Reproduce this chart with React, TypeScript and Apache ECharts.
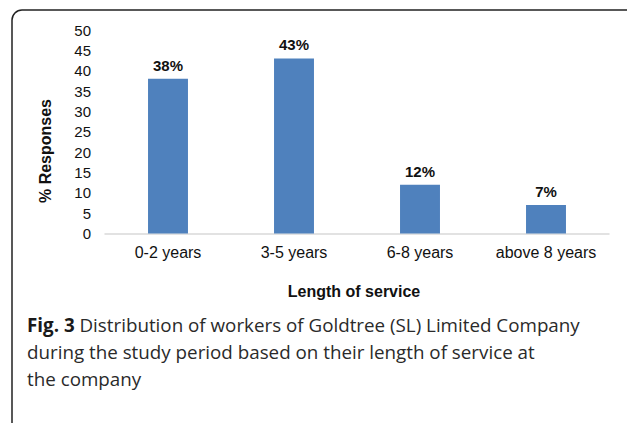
import React, { useEffect, useRef } from "react";
import * as echarts from "echarts";

const categories = ["0-2 years", "3-5 years", "6-8 years", "above 8 years"];
const responses = [38, 43, 12, 7];
const yTicks = { min: 0, max: 50, interval: 5 };
const xTitle = "Length of service";
const yTitle = "% Responses";
const captionBold = "Fig. 3";
const captionLines = [
  " Distribution of workers of Goldtree (SL) Limited Company",
  "during the study period based on their length of service at",
  "the company",
];

export default function App() {
  const ref = useRef<HTMLDivElement>(null);
  useEffect(() => {
    if (!ref.current) return;
    const chart = echarts.init(ref.current, null, { renderer: "svg" });
    const captionText =
      "{b|" + captionBold + "}{n|" + captionLines[0] + "}\n{n|" + captionLines[1] + "}\n{n|" + captionLines[2] + "}";
    chart.setOption({
      animation: false,
      backgroundColor: "#ffffff",
      grid: { left: 105, right: 18, top: 30, bottom: 189.5, containLabel: false },
      xAxis: {
        type: "category",
        data: categories,
        axisLine: { show: true, lineStyle: { color: "#d9d9d9", width: 1.5 } },
        axisTick: { show: false },
        axisLabel: {
          interval: 0,
          hideOverlap: false,
          color: "#111",
          fontSize: 16,
          fontFamily: "Liberation Sans, Arial, sans-serif",
          margin: 11,
        },
      },
      yAxis: {
        type: "value",
        min: yTicks.min,
        max: yTicks.max,
        interval: yTicks.interval,
        axisLine: { show: false },
        axisTick: { show: false },
        splitLine: { show: false },
        axisLabel: {
          color: "#111",
          fontSize: 15,
          fontFamily: "Liberation Sans, Arial, sans-serif",
          margin: 14,
        },
      },
      series: [
        {
          type: "bar",
          data: responses,
          barWidth: "31.7%",
          itemStyle: { color: "#4f81bd" },
          label: {
            show: true,
            position: "top",
            distance: 6,
            formatter: "{c}%",
            color: "#111",
            fontSize: 15,
            fontWeight: "bold",
            fontFamily: "Liberation Sans, Arial, sans-serif",
          },
        },
      ],
      graphic: [
        {
          type: "rect",
          shape: { x: 12, y: 10, width: 700, height: 500, r: 10 },
          style: { fill: "none", stroke: "#222", lineWidth: 1.5 },
          silent: true,
        },
        {
          type: "text",
          x: 354,
          y: 291,
          style: {
            text: xTitle,
            fill: "#111",
            font: "bold 16px 'Liberation Sans', Arial, sans-serif",
            textAlign: "center",
            textVerticalAlign: "middle",
          },
        },
        {
          type: "text",
          x: 45,
          y: 151,
          rotation: Math.PI / 2,
          style: {
            text: yTitle,
            fill: "#111",
            font: "bold 16px 'Liberation Sans', Arial, sans-serif",
            textAlign: "center",
            textVerticalAlign: "middle",
          },
        },
        {
          type: "text",
          x: 27,
          y: 311,
          style: {
            text: captionText,
            fill: "#222",
            rich: {
              b: {
                fontFamily: "Open Sans, sans-serif",
                fontWeight: "bold",
                fontSize: 18.8,
                lineHeight: 27,
                fill: "#1a1a1a",
              },
              n: {
                fontFamily: "Open Sans, sans-serif",
                fontSize: 18.8,
                lineHeight: 27,
                fill: "#2a2a2a",
              },
            },
          },
        },
      ],
    });
    return () => chart.dispose();
  }, []);
  return (
    <div
      ref={ref}
      style={{ position: "fixed", left: 0, top: 0, width: 627, height: 423 }}
    />
  );
}
